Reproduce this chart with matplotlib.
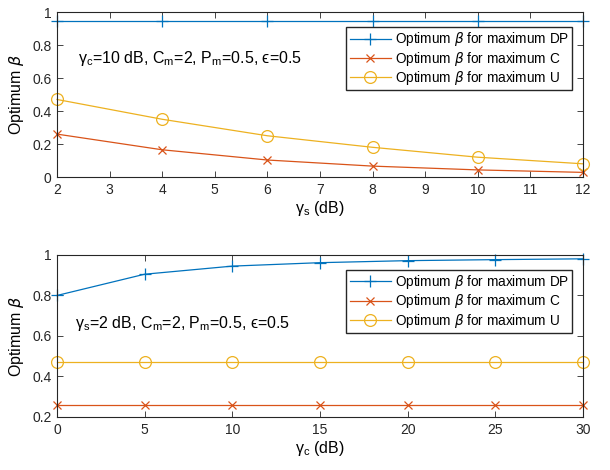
import matplotlib
matplotlib.use("Agg")
import matplotlib.pyplot as plt

plt.rcParams['font.family'] = ['Liberation Sans', 'DejaVu Sans']
plt.rcParams['mathtext.default'] = 'regular'

# Top panel data (x: gamma_s in dB)
gs = [2, 4, 6, 8, 10, 12]
top_dp = [0.945, 0.945, 0.945, 0.945, 0.945, 0.945]
top_c = [0.26, 0.165, 0.103, 0.066, 0.043, 0.028]
top_u = [0.47, 0.35, 0.25, 0.18, 0.12, 0.08]

# Bottom panel data (x: gamma_c in dB)
gc = [0, 5, 10, 15, 20, 25, 30]
bot_dp = [0.80, 0.905, 0.945, 0.962, 0.972, 0.977, 0.981]
bot_c = [0.26, 0.26, 0.26, 0.26, 0.26, 0.26, 0.26]
bot_u = [0.47, 0.47, 0.47, 0.47, 0.47, 0.47, 0.47]

labels = [r'Optimum $\mathit{\beta}$ for maximum DP',
          r'Optimum $\mathit{\beta}$ for maximum C',
          r'Optimum $\mathit{\beta}$ for maximum U']
colors = ['#0072BD', '#D95319', '#EDB120']
markers = ['+', 'x', 'o']
msizes = [9, 6, 8.5]

fig = plt.figure(figsize=(6.1, 4.7), dpi=100)
ax1 = fig.add_axes([0.0934, 0.6234, 0.8623, 0.351])
ax2 = fig.add_axes([0.0934, 0.1128, 0.8623, 0.3447])

def style(ax):
    for s in ax.spines.values():
        s.set_color('#262626')
        s.set_linewidth(0.8)
    ax.tick_params(direction='in', top=True, right=True, length=4,
                   width=0.6, colors='#262626', labelsize=10, pad=4)

for ax, x, ys in [(ax1, gs, [top_dp, top_c, top_u]), (ax2, gc, [bot_dp, bot_c, bot_u])]:
    for y, c, m, ms, l in zip(ys, colors, markers, msizes, labels):
        ax.plot(x, y, color=c, marker=m, markersize=ms,
                markerfacecolor='none', markeredgewidth=0.9,
                linewidth=0.9, label=l, clip_on=False)
    style(ax)
    ax.set_ylabel(r'Optimum $\mathit{\beta}$', fontsize=11.5, labelpad=4)
    ax.legend(loc='upper right', fontsize=9.8, frameon=True, fancybox=False,
              edgecolor='#262626', framealpha=1, borderpad=0.25, labelspacing=0.1,
              handlelength=3.0, handletextpad=0.3, borderaxespad=0.0,
              bbox_to_anchor=(0.98, 0.91))

ax1.set_xlim(2, 12)
ax1.set_ylim(0, 1)
ax1.set_xticks(range(2, 13))
ax1.set_yticks([0, 0.2, 0.4, 0.6, 0.8, 1])
ax1.set_yticklabels(['0', '0.2', '0.4', '0.6', '0.8', '1'])
ax1.set_xlabel(r'$\gamma_s$ (dB)', fontsize=11.5, labelpad=2)
ax1.text(0.04, 0.72, r'$\gamma_c$=10 dB, C$_m$=2, P$_m$=0.5, ' + '\u03f5=0.5',
         transform=ax1.transAxes, fontsize=11.5, va='center')

ax2.set_xlim(0, 30)
ax2.set_ylim(0.2, 1)
ax2.set_xticks(range(0, 31, 5))
ax2.set_yticks([0.2, 0.4, 0.6, 0.8, 1])
ax2.set_yticklabels(['0.2', '0.4', '0.6', '0.8', '1'])
ax2.set_xlabel(r'$\gamma_c$ (dB)', fontsize=11.5, labelpad=2)
ax2.text(0.034, 0.58, r'$\gamma_s$=2 dB, C$_m$=2, P$_m$=0.5, ' + '\u03f5=0.5',
         transform=ax2.transAxes, fontsize=11.5, va='center')

fig.savefig('out.png', dpi=100)
